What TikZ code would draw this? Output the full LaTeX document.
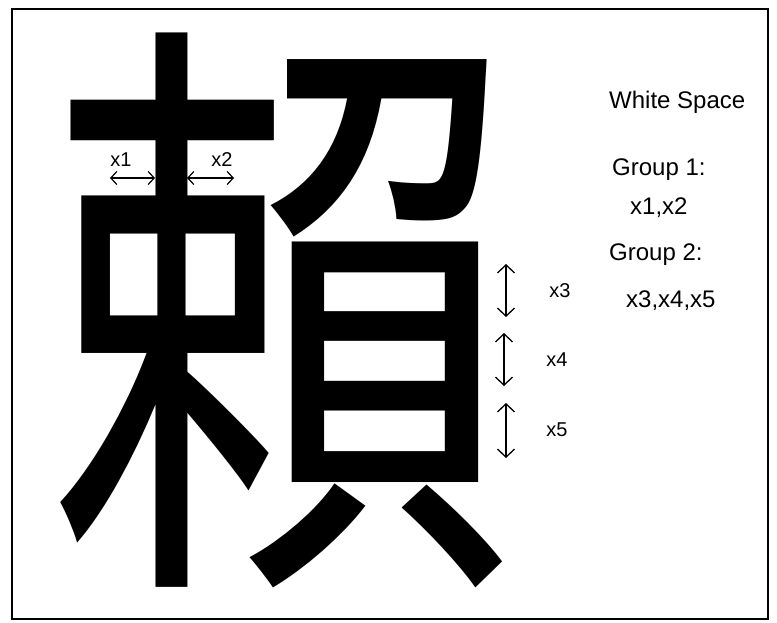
\documentclass[tikz,border=0pt]{standalone}
\usepackage{fontspec}
\setmainfont{Liberation Sans}
\newfontfamily\cjk{Noto Sans CJK TC}
\usetikzlibrary{arrows.meta}
\tikzset{
  lbl/.style={inner sep=0pt, font=\fontsize{20}{20}\selectfont},
  note/.style={inner sep=0pt, anchor=west, font=\fontsize{24}{24}\selectfont},
  gap/.style={line width=1.3pt, {Straight Barb[length=8pt,width=17pt]}-{Straight Barb[length=8pt,width=17pt]}},
  gaps/.style={line width=1.2pt, {Straight Barb[length=6pt,width=13pt]}-{Straight Barb[length=6pt,width=13pt]}}
}
\begin{document}
\begin{tikzpicture}[x=1pt,y=-1pt]
\useasboundingbox (0,0) rectangle (777,622);
\fill[white] (0,0) rectangle (777,622);
\draw[line width=1.5pt] (12,9) rectangle (768,619);
% glyph
\node[inner sep=0pt, xscale=0.775] (glyph) at (282,310) {\cjk\fontsize{606}{606}\selectfont 賴};
% x1, x2 (between the top stroke and the box)
\coordinate (a1) at (110,178); \coordinate (b1) at (155,178);
\coordinate (a2) at (187,178); \coordinate (b2) at (234,178);
\draw[gaps] (a1) -- (b1);
\draw[gaps] (a2) -- (b2);
\node[lbl] (x1) at (121,160) {x1};
\node[lbl] (x2) at (222,160) {x2};
% x3..x5 (the three spaces of the box)
\coordinate (a3) at (506,264); \coordinate (b3) at (506,317);
\coordinate (a4) at (504,333); \coordinate (b4) at (504,386);
\coordinate (a5) at (506,403); \coordinate (b5) at (506,458);
\draw[gap] (a3) -- (b3);
\draw[gap] (a4) -- (b4);
\draw[gap] (a5) -- (b5);
\node[lbl] (x3) at (560,291) {x3};
\node[lbl] (x4) at (557,360) {x4};
\node[lbl] (x5) at (557,430) {x5};
% notes
\node[note] (ws) at (609,102) {White Space};
\node[note] (g1) at (612,170) {Group 1:};
\node[note] (g1v) at (630,208) {x1,x2};
\node[note] (g2) at (609,255) {Group 2:};
\node[note] (g2v) at (626,301) {x3,x4,x5};
\end{tikzpicture}
\end{document}
